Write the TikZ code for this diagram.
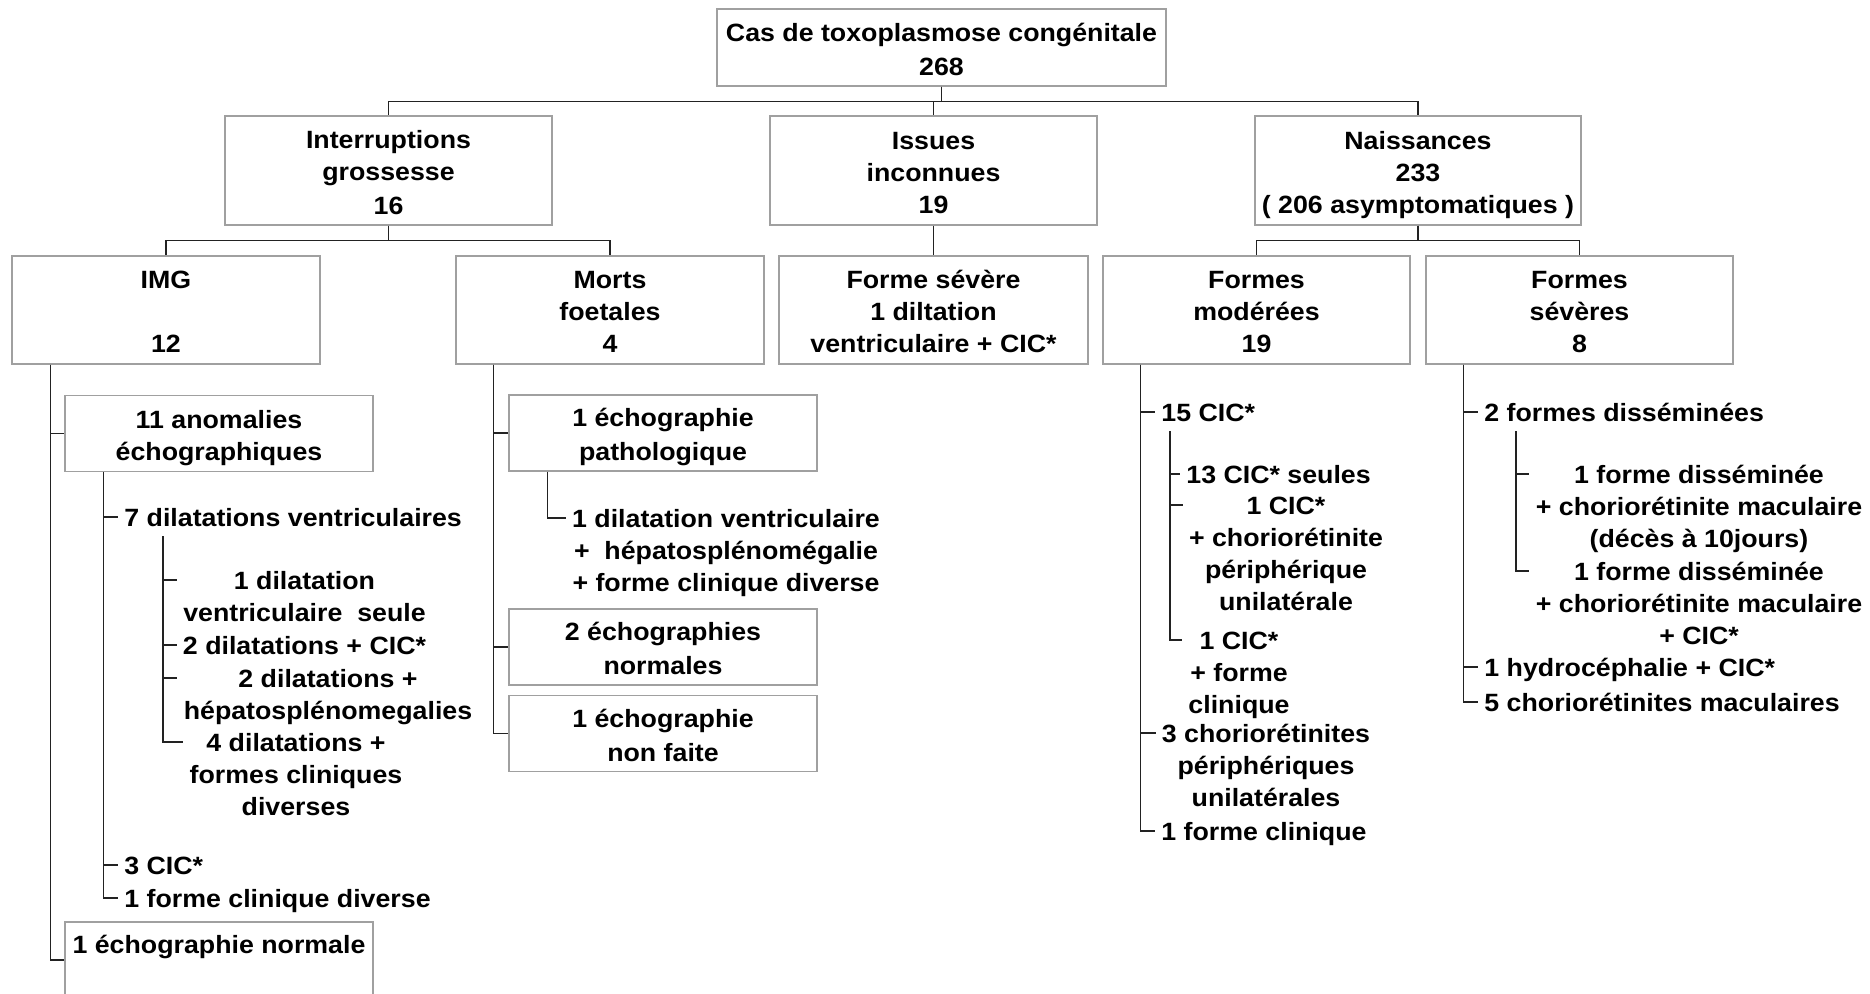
\documentclass[tikz,border=0pt]{standalone}
\usepackage{fontspec}
\setmainfont{Liberation Sans}[FakeStretch=1.07]
\usetikzlibrary{calc}
\definecolor{boxgray}{HTML}{A0A0A0}
\definecolor{linegray}{HTML}{222222}
\tikzset{
  every node/.style={font=\fontsize{12.5pt}{16pt}\selectfont\bfseries},
  box/.style={draw=boxgray, line width=0.6pt, align=center, inner sep=0pt},
  bigbox/.style={box, minimum width=154pt, minimum height=54pt},
  smallbox/.style={box, minimum width=154pt, minimum height=38pt},
  item/.style={align=center, inner xsep=3pt, inner ysep=0pt},
  conn/.style={draw=linegray, line width=0.65pt},
}
\newcommand{\tk}{\strut}
\newcommand{\bs}{\rule[-2.6pt]{0pt}{16pt}}
\begin{document}
\begin{tikzpicture}[x=0.5pt,y=-0.5pt]
\useasboundingbox (0,0) rectangle (1870,994);
\clip (0,0) rectangle (1870,994);

% ---- boxes ----
\node[box, minimum width=224.5pt, minimum height=38.5pt] (root) at (941.5,47.5) {\bs Cas de toxoplasmose congénitale\\\bs 268};
\node[bigbox, minimum width=163.5pt, minimum height=54.5pt] (interr) at (388.5,170.5) {\bs Interruptions\\\bs grossesse\\\bs 16};
\node[bigbox, minimum width=163.5pt, minimum height=54.5pt] (issues) at (933.5,170.5) {\bs Issues\\\bs inconnues\\\bs 19};
\node[bigbox, minimum width=163pt, minimum height=54.5pt] (naiss) at (1418,170.5) {\bs Naissances\\\bs 233\\\bs ( 206 asymptomatiques )};

\node[bigbox] (img) at (166,310) {\bs IMG\\\bs\\\bs 12};
\node[bigbox] (morts) at (610,310) {\bs Morts\\\bs foetales\\\bs 4};
\node[bigbox, minimum width=154.5pt] (fsev) at (933.5,310) {\bs Forme sévère\\\bs 1 diltation\\\bs ventriculaire + CIC*};
\node[bigbox, minimum width=153.5pt] (fmod) at (1256.5,310) {\bs Formes\\\bs modérées\\\bs 19};
\node[bigbox, minimum width=153.5pt] (fsevs) at (1579.5,310) {\bs Formes\\\bs sévères\\\bs 8};

\node[smallbox] (anom) at (219,433.5) {\bs 11 anomalies\\\bs échographiques};
\node[smallbox] (echn) at (219,960) {\bs 1 échographie normale\\\bs};
\node[smallbox] (echp) at (663,433) {\bs 1 échographie\\\bs pathologique};
\node[smallbox] (ech2) at (663,647) {\bs 2 échographies\\\bs normales};
\node[smallbox] (echnf) at (663,733.5) {\bs 1 échographie\\\bs non faite};

% ---- tree connectors ----
\draw[conn] (root.south) -- ++(0,15) -| (interr.north);
\draw[conn] (root.south) -- ++(0,15) -| (issues.north);
\draw[conn] (root.south) -- ++(0,15) -| (naiss.north);
\draw[conn] (interr.south) -- ++(0,15) -| (img.north);
\draw[conn] (interr.south) -- ++(0,15) -| (morts.north);
\draw[conn] (issues.south) -- (fsev.north);
\draw[conn] (naiss.south) -- ++(0,15) -| (fmod.north);
\draw[conn] (naiss.south) -- ++(0,15) -| (fsevs.north);

% ---- IMG list ----
\node[item, anchor=north west] (dil7) at (118,503.6) {\tk 7 dilatations ventriculaires};
\node[item, anchor=north] (d1) at (304.5,566.6) {\tk 1 dilatation\\ventriculaire\ \ seule};
\node[item, anchor=north] (d2) at (304.5,631.6) {\tk 2 dilatations + CIC*};
\node[item, anchor=north] (d3) at (328,664.6) {\tk 2 dilatations +\\hépatosplénomegalies};
\node[item, anchor=north] (d4) at (296,728.6) {\tk 4 dilatations +\\formes cliniques\\diverses};
\node[item, anchor=north west] (cic3) at (118,851.6) {\tk 3 CIC*};
\node[item, anchor=north west] (fcd) at (118,884.6) {\tk 1 forme clinique diverse};

\draw[conn] ([xshift=19.5pt]img.south west) |- (anom.west);
\draw[conn] ([xshift=19.5pt]img.south west) |- (echn.west);
\draw[conn] ([xshift=19.5pt]anom.south west) |- ([yshift=-6.7pt]dil7.north west);
\draw[conn] ([xshift=19.5pt]anom.south west) |- ([yshift=-6.7pt]cic3.north west);
\draw[conn] ([xshift=19.5pt]anom.south west) |- ([yshift=-6.7pt]fcd.north west);
\draw[conn] ([xshift=22.5pt]dil7.south west) |- ([yshift=-6.7pt]d1.north west);
\draw[conn] ([xshift=22.5pt]dil7.south west) |- ([yshift=-6.7pt]d2.north west);
\draw[conn] ([xshift=22.5pt]dil7.south west) |- ([yshift=-6.7pt]d3.north west);
\draw[conn] ([xshift=22.5pt]dil7.south west) |- ([yshift=-6.7pt]d4.north west);

% ---- Morts list ----
\node[item, anchor=north] (ep1) at (726,504.6) {\tk 1 dilatation ventriculaire\\+\ \ hépatosplénomégalie\\+ forme clinique diverse};
\draw[conn] ([xshift=19pt]morts.south west) |- (echp.west);
\draw[conn] ([xshift=19pt]morts.south west) |- (ech2.west);
\draw[conn] ([xshift=19pt]morts.south west) |- (echnf.west);
\draw[conn] ([xshift=19.5pt]echp.south west) |- ([yshift=-6.7pt]ep1.north west);

% ---- Formes moderees list ----
\node[item, anchor=north west] (c15) at (1155,398.6) {\tk 15 CIC*};
\node[item, anchor=north west] (c13) at (1180,460.6) {\tk 13 CIC* seules};
\node[item, anchor=north] (c1a) at (1286,491.6) {\tk 1 CIC*\\+ choriorétinite\\périphérique\\unilatérale};
\node[item, anchor=north] (c1b) at (1239,626.6) {\tk 1 CIC*\\+ forme\\clinique};
\node[item, anchor=north] (ch3) at (1266,719.6) {\tk 3 choriorétinites\\périphériques\\unilatérales};
\node[item, anchor=north west] (fc1) at (1155,817.6) {\tk 1 forme clinique};

\draw[conn] ([xshift=19pt]fmod.south west) |- ([yshift=-6.7pt]c15.north west);
\draw[conn] ([xshift=19pt]fmod.south west) |- ([yshift=-6.7pt]ch3.north west);
\draw[conn] ([xshift=19pt]fmod.south west) |- ([yshift=-6.7pt]fc1.north west);
\draw[conn] ([xshift=7.5pt]c15.south west) |- ([yshift=-6.7pt]c13.north west);
\draw[conn] ([xshift=7.5pt]c15.south west) |- ([yshift=-6.7pt]c1a.north west);
\draw[conn] ([xshift=7.5pt]c15.south west) |- ([yshift=-6.7pt]c1b.north west);

% ---- Formes severes list ----
\node[item, anchor=north west] (f2) at (1478,398.6) {\tk 2 formes disséminées};
\node[item, anchor=north] (fd1) at (1699,460.6) {\tk 1 forme disséminée\\+ choriorétinite maculaire\\(décès à 10jours)};
\node[item, anchor=north] (fd2) at (1699,557.6) {\tk 1 forme disséminée\\+ choriorétinite maculaire\\+ CIC*};
\node[item, anchor=north west] (hyd) at (1478,653.6) {\tk 1 hydrocéphalie + CIC*};
\node[item, anchor=north west] (ch5) at (1478,688.6) {\tk 5 choriorétinites maculaires};

\draw[conn] ([xshift=19pt]fsevs.south west) |- ([yshift=-6.7pt]f2.north west);
\draw[conn] ([xshift=19pt]fsevs.south west) |- ([yshift=-6.7pt]hyd.north west);
\draw[conn] ([xshift=19pt]fsevs.south west) |- ([yshift=-6.7pt]ch5.north west);
\draw[conn] ([xshift=19pt]f2.south west) |- ([yshift=-6.7pt]fd1.north west);
\draw[conn] ([xshift=19pt]f2.south west) |- ([yshift=-6.7pt]fd2.north west);
\end{tikzpicture}
\end{document}
